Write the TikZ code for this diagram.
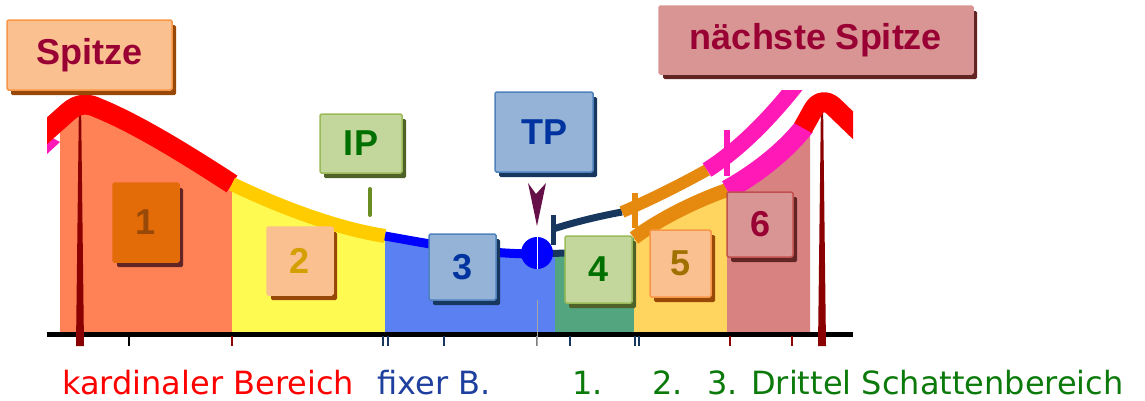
\documentclass[tikz,border=0pt]{standalone}
\usepackage{fontspec}
\setmainfont{Liberation Sans}
\newfontfamily\legfont{DejaVu Sans}
\usetikzlibrary{shadows}
\definecolor{wine}{HTML}{990033}
\definecolor{peach}{HTML}{FAC090}
\definecolor{peachline}{HTML}{F79646}
\definecolor{peachshade}{HTML}{984807}
\definecolor{rose}{HTML}{D99594}
\definecolor{roseline}{HTML}{C0504D}
\definecolor{roseshade}{HTML}{632523}
\definecolor{sage}{HTML}{C3D69B}
\definecolor{sageline}{HTML}{9BBB59}
\definecolor{sageshade}{HTML}{4F6228}
\definecolor{sky}{HTML}{95B3D7}
\definecolor{skyline}{HTML}{4F81BD}
\definecolor{skyshade}{HTML}{17375E}
\definecolor{rust}{HTML}{E36C09}
\definecolor{numgreen}{HTML}{007000}
\definecolor{numblue}{HTML}{0033A0}
\definecolor{numgold}{HTML}{D4A000}
\definecolor{numochre}{HTML}{A07000}
\definecolor{rone}{HTML}{FF8257}
\definecolor{rtwo}{HTML}{FFFA52}
\definecolor{rthree}{HTML}{5B80F2}
\definecolor{rfour}{HTML}{52A57E}
\definecolor{rfive}{HTML}{FFD560}
\definecolor{rsix}{HTML}{D98282}
\definecolor{bred}{HTML}{FF0000}
\definecolor{byel}{HTML}{FFCC00}
\definecolor{bblue}{HTML}{0000FF}
\definecolor{navy}{HTML}{17375E}
\definecolor{orng}{HTML}{E5890F}
\definecolor{pinkband}{HTML}{FF1AB8}
\definecolor{spikered}{HTML}{8B0000}
\definecolor{tpmark}{HTML}{66104A}
\definecolor{iptick}{HTML}{6B8E23}
\definecolor{legblue}{HTML}{1F3F9F}
\definecolor{leggreen}{HTML}{0B7A0B}
\newcommand{\spike}[1]{\fill[spikered] (#1-1,100) -- (#1+1,100) -- (#1+4,346) -- (#1-4,346) -- cycle;}
\newcommand{\band}[3]{\draw[line width=#1, color=#2, line cap=butt, line join=round] #3;}

\tikzset{
  tag/.style n args={4}{draw=#2, fill=#1, text=#4, line width=1.5pt, rounded corners=1.5pt,
    inner sep=0pt, font=\bfseries\fontsize{36}{40}\selectfont,
    general shadow={fill=#3, shadow xshift=4pt, shadow yshift=-5pt}},
  leg/.style={anchor=base west, inner sep=0pt, font=\legfont\fontsize{32}{36}\selectfont},
}

\begin{document}
\begin{tikzpicture}[x=1pt, y=-1pt]
  \useasboundingbox (0,0) rectangle (1145,400);
  \begin{scope}
    \clip (47,90) rectangle (853,346);
    % regions
    \fill[rone] (60,333) -- (60,119) -- (68,112) .. controls (78,103) and (88,103) .. (98,108) .. controls (140,125) and (195,160) .. (232,184) -- (232,333) -- cycle;
    \fill[rtwo] (232,333) -- (232,184) .. controls (280,207) and (335,228) .. (385,236) -- (385,333) -- cycle;
    \fill[rthree] (385,333) -- (385,236) .. controls (430,244) and (480,254) .. (537,254) -- (555,255) -- (555,333) -- cycle;
    \fill[rfour] (555,333) -- (555,255) -- (634,238) -- (634,333) -- cycle;
    \fill[rfive] (634,333) -- (634,238) .. controls (655,222) and (690,203) .. (727,190) -- (727,333) -- cycle;
    \fill[rsix] (727,333) -- (727,190) .. controls (752,176) and (782,155) .. (805,126) -- (810,118) -- (810,333) -- cycle;
    \fill[pinkband] (47,135) -- (60,142) -- (47,154) -- cycle;
    % axis
    \draw[line width=5pt] (47,334) -- (853,334);
    \foreach \x/\c in {129/black, 232/spikered, 383/navy, 388/navy, 444/navy, 537/gray, 570/navy, 635/navy, 639/navy, 730/spikered, 792/spikered}
      {\draw[\c, line width=2pt] (\x,336) -- (\x,346);}
    \spike{80} \spike{822}
    % curves
    \band{20pt}{bred}{(40,137) -- (68,112) .. controls (78,103) and (88,103) .. (98,108) .. controls (140,125) and (195,160) .. (232,184)}
    \band{14pt}{byel}{(232,184) .. controls (280,207) and (335,228) .. (385,236)}
    \band{9pt}{bblue}{(385,236) .. controls (430,244) and (480,254) .. (537,254)}
    \band{7pt}{navy}{(537,254) -- (566,253)}
    \band{7pt}{navy}{(553,229) .. controls (575,222) and (600,216) .. (622,212)}
    \band{5pt}{navy}{(553,215) -- (553,245)}
    \band{12pt}{orng}{(622,212) .. controls (650,200) and (680,185) .. (707,170)}
    \band{6pt}{orng}{(635,193) -- (635,228)}
    \band{16pt}{pinkband}{(707,170) .. controls (737,151) and (767,122) .. (797,84)}
    \band{6pt}{pinkband}{(727,130) -- (727,176)}
    \band{14pt}{orng}{(634,238) .. controls (655,222) and (690,203) .. (727,190)}
    \band{20pt}{pinkband}{(727,190) .. controls (752,176) and (782,155) .. (805,126)}
    \band{20pt}{bred}{(803,128) -- (813,110) .. controls (818,101) and (826,100) .. (833,106) -- (860,132)}
  \end{scope}
  % turning point
  \fill[bblue] (537,253) circle (16);
  \draw[white, line width=1pt] (537,237) -- (537,269);
  \draw[gray!70, line width=1pt] (537,300) -- (537,346);
  \fill[tpmark] (528,183) -- (536,194) -- (546,183) -- (537,226) -- cycle;
  \draw[iptick, line width=4pt, line cap=round] (370,189) -- (370,215);
  % labels
  \node[tag={peach}{peachline}{peachshade}{wine}, minimum width=165pt, minimum height=70pt] (spitze) at (89.5,55) {Spitze};
  \node[tag={rose}{rose}{roseshade}{wine}, minimum width=314pt, minimum height=68pt] (next) at (816,40) {nächste Spitze};
  \node[tag={sage}{sageline}{sageshade}{numgreen}, minimum width=82pt, minimum height=59pt] (ip) at (361,143.5) {IP};
  \node[tag={sky}{skyline}{skyshade}{numblue}, minimum width=98pt, minimum height=80pt] (tp) at (544,132) {TP};
  \node[tag={rust}{rust}{roseshade}{peachshade}, minimum width=66pt, minimum height=79pt] (b1) at (146,222.5) {1};
  \node[tag={peach}{peach}{peachshade}{numgold}, minimum width=66pt, minimum height=68pt] (b2) at (300,261) {2};
  \node[tag={sky}{skyline}{skyshade}{numblue}, minimum width=67pt, minimum height=66pt] (b3) at (462.5,267) {3};
  \node[tag={sage}{sageline}{sageshade}{numgreen}, minimum width=67pt, minimum height=67pt] (b4) at (598.5,269.5) {4};
  \node[tag={peach}{peachline}{peachshade}{numochre}, minimum width=61pt, minimum height=67pt] (b5) at (680.5,263.5) {5};
  \node[tag={rose}{roseline}{roseshade}{wine}, minimum width=66pt, minimum height=65pt] (b6) at (760,224.5) {6};
  % legend
  \node[leg, text=bred] (kard) at (62,394) {kardinaler Bereich};
  \node[leg, text=legblue] (fix) at (377,394) {fixer B.};
  \node[leg, text=leggreen] (d1) at (572,394) {1.};
  \node[leg, text=leggreen] (d2) at (652,394) {2.};
  \node[leg, text=leggreen] (d3) at (707,394) {3. Drittel Schattenbereich};
\end{tikzpicture}
\end{document}
